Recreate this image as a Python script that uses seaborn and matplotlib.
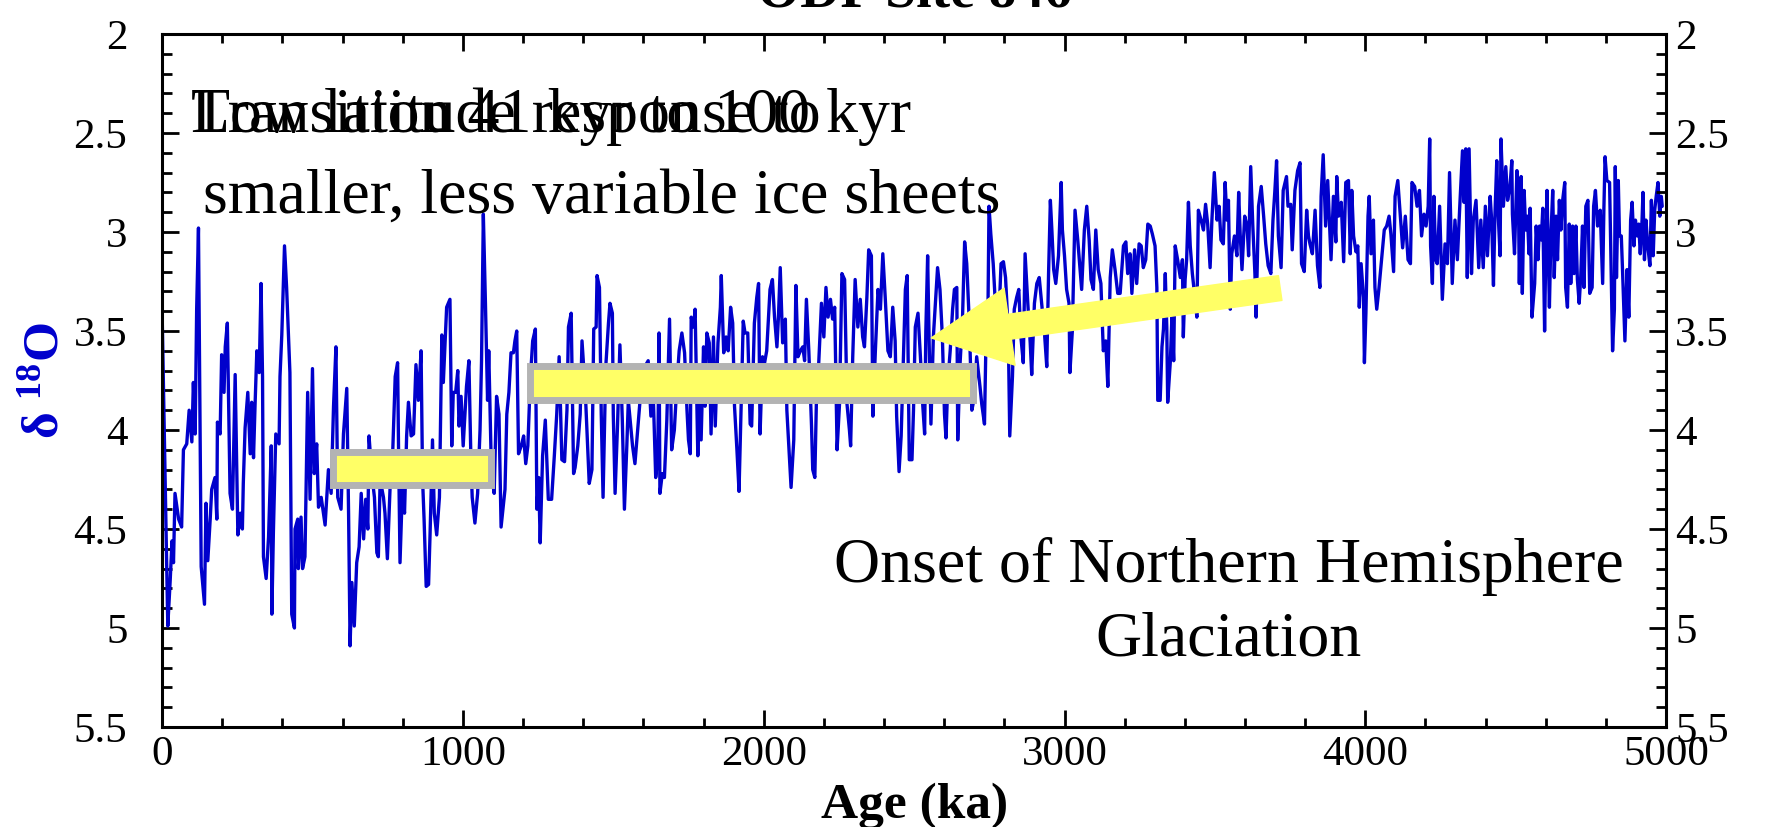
import matplotlib
matplotlib.use("Agg")
import matplotlib.pyplot as plt
import numpy as np
import pandas as pd
import seaborn as sns
from matplotlib.patches import Rectangle, FancyArrowPatch
from matplotlib.ticker import FixedLocator, FixedFormatter, MultipleLocator

sns.set_style("white")
plt.rcParams["font.family"] = ["Liberation Serif", "DejaVu Serif"]
plt.rcParams["mathtext.fontset"] = "custom"
plt.rcParams["mathtext.rm"] = "Liberation Serif"
plt.rcParams["mathtext.bf"] = "Liberation Serif:bold"
plt.rcParams["mathtext.it"] = "Liberation Serif:italic"
for k in ["axes.edgecolor", "text.color", "xtick.color", "ytick.color", "axes.labelcolor"]:
    plt.rcParams[k] = "black"

# ---------------- data ----------------
age_0 = [0, 19, 27, 33, 38, 43, 55, 65, 71, 82,
         90, 99, 104, 110, 115, 121, 130, 141, 146, 152,
         160, 165, 176, 182, 184, 193, 198, 206, 210, 217,
         226, 234, 243, 252, 260, 267, 270, 276, 285, 293,
         298, 304, 309, 315, 323, 329, 334, 337, 346, 354,
         363, 365, 370, 378, 389, 392, 398, 407, 414, 425,
         428, 431, 440, 442, 451, 453, 462, 467, 475, 484,
         492, 500, 506, 514, 520, 529, 542, 553, 562, 570,
         578, 584, 595, 603, 614, 620, 625, 631, 639, 647,
         655, 662, 670, 677, 684, 688, 697, 706, 714, 719,
         725, 736, 741, 749, 758, 767, 775, 783, 786, 791,
         799, 806, 813, 819, 828, 836, 844, 852, 861, 866,
         871, 878, 886, 891, 899, 905, 913, 922, 930, 935,
         946, 957, 963, 968, 976, 983, 987, 994]
d18o_0 = [3.39, 4.99, 4.76, 4.56, 4.67, 4.32, 4.45, 4.49, 4.10, 4.07,
          3.90, 4.06, 3.76, 4.02, 3.39, 2.98, 4.69, 4.88, 4.37, 4.66,
          4.45, 4.30, 4.24, 4.45, 3.96, 4.02, 3.62, 3.81, 3.58, 3.46,
          4.32, 4.40, 3.72, 4.53, 4.42, 4.50, 4.27, 3.99, 3.81, 4.12,
          3.86, 4.14, 3.88, 3.60, 3.71, 3.26, 3.73, 4.64, 4.75, 4.54,
          4.08, 4.93, 4.52, 4.02, 4.07, 3.73, 3.52, 3.07, 3.28, 3.71,
          4.34, 4.93, 5.00, 4.50, 4.45, 4.70, 4.44, 4.70, 4.64, 3.81,
          4.35, 3.69, 4.22, 4.07, 4.39, 4.34, 4.48, 4.20, 4.32, 3.88,
          3.58, 4.34, 4.40, 4.02, 3.79, 4.42, 5.09, 4.77, 4.99, 4.67,
          4.59, 4.32, 4.55, 4.35, 4.50, 4.03, 4.22, 4.34, 4.62, 4.64,
          4.25, 4.34, 4.42, 4.65, 4.29, 4.10, 3.73, 3.66, 4.08, 4.67,
          4.29, 4.42, 4.03, 3.86, 4.03, 4.02, 3.67, 3.85, 3.60, 4.25,
          4.45, 4.79, 4.78, 4.52, 4.05, 4.42, 4.53, 4.34, 3.52, 3.76,
          3.38, 3.34, 4.08, 3.81, 3.81, 3.70, 3.98, 3.83]

age_1 = [1001, 1012, 1020, 1027, 1031, 1040, 1049, 1057, 1062, 1068,
         1075, 1082, 1086, 1095, 1104, 1112, 1120, 1127, 1134, 1140,
         1146, 1153, 1160, 1168, 1173, 1179, 1185, 1194, 1202, 1209,
         1216, 1224, 1232, 1241, 1246, 1252, 1257, 1265, 1274, 1284,
         1295, 1304, 1312, 1320, 1329, 1338, 1346, 1351, 1360, 1368,
         1373, 1382, 1390, 1396, 1407, 1420, 1429, 1435, 1443, 1446,
         1454, 1460, 1466, 1475, 1484, 1489, 1497, 1500, 1506, 1514,
         1522, 1530, 1537, 1545, 1550, 1556, 1564, 1572, 1580, 1589,
         1597, 1605, 1616, 1625, 1633, 1641, 1648, 1652, 1655, 1663,
         1670, 1678, 1687, 1694, 1703, 1711, 1719, 1728, 1737, 1745,
         1750, 1756, 1759, 1767, 1772, 1781, 1786, 1792, 1800, 1805,
         1811, 1819, 1825, 1833, 1839, 1848, 1856, 1859, 1867, 1875,
         1882, 1890, 1897, 1903, 1911, 1918, 1925, 1932, 1938, 1947,
         1955, 1960, 1969, 1977, 1983, 1988, 1996]
d18o_1 = [4.08, 3.78, 3.65, 4.17, 4.34, 4.47, 4.32, 4.00, 3.65, 2.91,
          3.36, 3.85, 3.60, 4.22, 4.32, 3.83, 3.92, 4.49, 4.39, 4.30,
          3.92, 3.81, 3.61, 3.61, 3.55, 3.50, 4.12, 4.08, 4.03, 4.17,
          4.08, 3.75, 3.55, 3.49, 4.40, 4.24, 4.57, 4.13, 3.95, 4.35,
          4.35, 4.13, 3.92, 3.63, 4.15, 4.16, 3.90, 3.48, 3.41, 4.22,
          4.19, 4.08, 3.92, 3.55, 3.81, 4.27, 4.20, 3.49, 3.48, 3.22,
          3.28, 3.92, 4.34, 3.68, 3.46, 3.36, 3.41, 3.92, 4.32, 3.98,
          3.57, 3.95, 4.40, 4.08, 3.85, 3.95, 4.08, 4.17, 4.02, 3.85,
          3.80, 3.68, 3.65, 3.93, 3.83, 4.24, 4.13, 3.51, 4.32, 4.22,
          4.24, 3.95, 3.44, 4.10, 4.00, 3.78, 3.60, 3.51, 3.61, 3.90,
          4.05, 4.12, 3.43, 3.48, 3.39, 4.13, 3.75, 4.05, 3.58, 3.88,
          3.51, 3.56, 4.02, 3.53, 3.98, 3.56, 3.38, 3.22, 3.61, 3.53,
          3.60, 3.38, 3.46, 3.88, 4.10, 4.31, 3.87, 3.45, 3.51, 3.51,
          3.97, 3.98, 3.46, 3.33, 3.26, 4.02, 3.63]

age_2 = [2003, 2010, 2021, 2029, 2036, 2044, 2049, 2055, 2063, 2072,
         2077, 2083, 2091, 2100, 2107, 2114, 2122, 2130, 2136, 2142,
         2150, 2159, 2163, 2170, 2175, 2183, 2192, 2200, 2207, 2214,
         2222, 2229, 2236, 2244, 2252, 2260, 2269, 2277, 2285, 2289,
         2296, 2304, 2313, 2321, 2329, 2335, 2343, 2349, 2358, 2363,
         2371, 2380, 2388, 2396, 2404, 2413, 2421, 2429, 2437, 2442,
         2450, 2457, 2465, 2471, 2477, 2484, 2493, 2498, 2504, 2513,
         2521, 2529, 2535, 2539, 2545, 2550, 2556, 2564, 2572, 2578,
         2586, 2594, 2601, 2606, 2612, 2620, 2628, 2634, 2642, 2645,
         2653, 2661, 2668, 2675, 2683, 2692, 2701, 2708, 2719, 2725,
         2734, 2738, 2745, 2749, 2755, 2763, 2769, 2774, 2782, 2789,
         2797, 2804, 2813, 2818, 2827, 2833, 2841, 2848, 2855, 2863,
         2869, 2878, 2886, 2891, 2900, 2908, 2916, 2924, 2933, 2941,
         2947, 2953, 2958, 2964, 2971, 2980, 2989, 2993]
d18o_2 = [3.66, 3.60, 3.29, 3.24, 3.43, 3.58, 3.43, 3.18, 3.56, 3.44,
          3.90, 4.07, 4.29, 4.05, 3.27, 3.63, 3.60, 3.58, 3.65, 3.34,
          3.60, 3.98, 4.20, 4.24, 3.87, 3.66, 3.36, 3.53, 3.28, 3.43,
          3.34, 3.44, 3.38, 4.10, 3.87, 3.21, 3.24, 3.87, 4.00, 4.08,
          3.63, 3.24, 3.48, 3.34, 3.53, 3.58, 3.33, 3.09, 3.12, 3.93,
          3.61, 3.29, 3.39, 3.11, 3.33, 3.60, 3.63, 3.38, 3.55, 3.93,
          4.21, 4.03, 3.61, 3.29, 3.22, 4.15, 4.15, 3.90, 3.48, 3.41,
          3.63, 3.88, 4.02, 3.50, 3.12, 3.56, 3.97, 3.53, 3.33, 3.18,
          3.29, 3.53, 3.92, 4.04, 3.76, 3.60, 3.39, 3.29, 3.28, 4.05,
          3.66, 3.43, 3.05, 3.16, 3.44, 3.90, 3.83, 3.63, 3.78, 3.87,
          3.97, 3.63, 3.48, 2.87, 3.01, 3.16, 3.33, 3.53, 3.43, 3.16,
          3.15, 3.23, 3.50, 4.03, 3.73, 3.39, 3.33, 3.29, 3.53, 3.66,
          3.11, 3.36, 3.56, 3.72, 3.36, 3.26, 3.23, 3.36, 3.50, 3.68,
          3.21, 2.84, 2.99, 3.19, 3.26, 3.12, 2.75, 2.99]

age_3 = [3000, 3007, 3015, 3018, 3026, 3035, 3044, 3052, 3057, 3066,
         3074, 3082, 3088, 3096, 3104, 3112, 3121, 3129, 3137, 3144,
         3152, 3159, 3168, 3177, 3185, 3196, 3204, 3210, 3218, 3224,
         3233, 3240, 3248, 3255, 3262, 3270, 3277, 3285, 3292, 3301,
         3307, 3310, 3318, 3324, 3329, 3335, 3340, 3343, 3352, 3357,
         3363, 3368, 3376, 3385, 3392, 3395, 3401, 3406, 3412, 3418,
         3425, 3432, 3440, 3445, 3454, 3462, 3469, 3476, 3484, 3490,
         3498, 3507, 3514, 3520, 3528, 3534, 3540, 3545, 3551, 3556,
         3565, 3573, 3579, 3584, 3590, 3599, 3607, 3612, 3619, 3626,
         3633, 3637, 3645, 3654, 3662, 3669, 3677, 3686, 3693, 3699,
         3705, 3711, 3720, 3727, 3738, 3743, 3752, 3757, 3766, 3775,
         3783, 3788, 3797, 3805, 3811, 3816, 3824, 3833, 3841, 3849,
         3853, 3860, 3868, 3875, 3886, 3894, 3902, 3905, 3911, 3920,
         3928, 3935, 3944, 3950, 3955, 3961, 3969, 3975, 3980, 3986,
         3994, 3997]
d18o_3 = [3.12, 3.29, 3.36, 3.71, 3.50, 2.89, 3.04, 3.19, 3.29, 2.99,
          2.87, 3.04, 3.24, 3.29, 2.99, 3.19, 3.26, 3.60, 3.55, 3.78,
          3.23, 3.09, 3.19, 3.31, 3.31, 3.07, 3.05, 3.21, 3.11, 3.31,
          3.09, 3.26, 3.06, 3.07, 3.18, 3.14, 2.96, 2.97, 3.01, 3.07,
          3.28, 3.85, 3.85, 3.58, 3.49, 3.21, 3.48, 3.86, 3.65, 3.43,
          3.65, 3.07, 3.14, 3.23, 3.14, 3.53, 3.24, 3.14, 2.85, 3.07,
          3.21, 3.31, 3.43, 2.89, 2.94, 2.99, 2.86, 2.96, 3.18, 2.94,
          2.70, 2.94, 2.87, 3.04, 3.06, 2.75, 2.94, 2.84, 3.39, 3.11,
          3.02, 3.12, 2.80, 3.01, 3.19, 2.92, 2.97, 3.12, 2.67, 2.97,
          3.21, 3.43, 2.87, 2.77, 2.92, 3.06, 3.17, 3.21, 2.94, 2.80,
          2.64, 3.02, 3.18, 2.79, 2.72, 2.87, 2.86, 3.09, 2.79, 2.69,
          2.65, 3.16, 3.20, 2.89, 3.02, 3.06, 3.11, 2.89, 3.17, 3.28,
          2.82, 2.61, 2.97, 2.74, 3.14, 2.82, 3.05, 2.72, 2.92, 2.85,
          3.15, 2.75, 2.74, 3.11, 2.79, 3.02, 3.10, 3.07, 3.38, 3.16,
          3.33, 3.66]

age_4 = [4002, 4009, 4013, 4019, 4027, 4032, 4038, 4045, 4054, 4063,
         4071, 4079, 4085, 4094, 4099, 4108, 4116, 4124, 4133, 4142,
         4150, 4155, 4164, 4172, 4180, 4187, 4195, 4202, 4209, 4214,
         4217, 4223, 4228, 4234, 4239, 4247, 4256, 4265, 4273, 4280,
         4289, 4298, 4306, 4314, 4323, 4328, 4334, 4339, 4345, 4353,
         4359, 4368, 4377, 4384, 4392, 4399, 4406, 4415, 4420, 4426,
         4431, 4437, 4442, 4448, 4451, 4459, 4467, 4473, 4481, 4487,
         4489, 4496, 4504, 4509, 4512, 4518, 4522, 4528, 4533, 4539,
         4544, 4548, 4554, 4563, 4568, 4574, 4579, 4585, 4590, 4596,
         4601, 4604, 4612, 4617, 4623, 4628, 4634, 4639, 4645, 4650,
         4656, 4663, 4666, 4672, 4678, 4683, 4689, 4694, 4700, 4705,
         4711, 4716, 4722, 4727, 4733, 4740, 4746, 4754, 4759, 4765,
         4772, 4781, 4789, 4793, 4797, 4803, 4812, 4817, 4822, 4828,
         4831, 4835, 4841, 4845, 4851, 4855, 4863, 4870, 4876, 4882,
         4887, 4893, 4898, 4904, 4909, 4914, 4920, 4923, 4928, 4933,
         4939, 4946, 4951, 4957, 4962, 4967, 4973, 4979, 4984, 4987]
d18o_4 = [3.41, 2.92, 2.82, 3.11, 2.94, 3.28, 3.39, 3.29, 3.14, 2.99,
          2.97, 2.92, 3.01, 3.20, 2.82, 2.74, 2.91, 3.08, 2.92, 3.14,
          3.16, 2.75, 2.77, 2.87, 2.79, 3.02, 2.91, 2.97, 2.87, 2.53,
          3.07, 3.26, 2.82, 3.14, 3.16, 2.87, 3.34, 3.06, 3.16, 2.70,
          3.26, 2.94, 3.14, 2.87, 2.59, 2.85, 2.58, 3.23, 2.58, 3.21,
          2.94, 2.84, 3.18, 2.94, 3.18, 2.87, 3.12, 2.82, 2.94, 3.27,
          2.91, 2.64, 2.92, 3.12, 2.53, 2.87, 2.67, 2.84, 2.77, 2.64,
          2.91, 3.11, 2.69, 2.82, 3.26, 2.72, 3.31, 2.79, 2.99, 2.92,
          3.11, 2.88, 3.43, 3.26, 2.97, 3.14, 2.97, 3.04, 2.88, 3.50,
          2.99, 2.79, 3.38, 3.02, 2.79, 3.23, 2.92, 3.14, 2.84, 2.99,
          2.84, 2.75, 3.28, 3.38, 2.96, 3.26, 2.97, 3.21, 2.97, 3.24,
          3.36, 3.23, 2.97, 3.28, 2.87, 2.84, 3.31, 3.28, 2.87, 2.79,
          2.97, 2.89, 3.26, 2.89, 2.62, 2.74, 2.75, 3.16, 3.60, 3.39,
          2.67, 3.23, 2.74, 3.02, 3.02, 3.19, 3.55, 3.19, 3.43, 2.94,
          2.85, 3.07, 2.94, 3.02, 2.96, 3.11, 2.94, 2.80, 3.14, 2.94,
          3.07, 3.17, 2.84, 3.12, 2.89, 2.82, 2.75, 2.92, 2.82, 2.87]

x_ticks = [0, 1000, 2000, 3000, 4000, 5000]
x_tick_labels = ["0", "1000", "2000", "3000", "4000", "5000"]
y_ticks = [2, 2.5, 3, 3.5, 4, 4.5, 5, 5.5]
y_tick_labels = ["2", "2.5", "3", "3.5", "4", "4.5", "5", "5.5"]

# highlighted intervals: (start ka, end ka, top, bottom)
box_short = (567, 1094, 4.112, 4.277)
box_long = (1224, 2696, 3.676, 3.847)
arrow_tail = (3717, 3.283)
arrow_tip = (2557, 3.535)

age = age_0 + age_1 + age_2 + age_3 + age_4
d18o = d18o_0 + d18o_1 + d18o_2 + d18o_3 + d18o_4
df = pd.DataFrame({"age": age, "d18o": d18o})

BLUE = "#0000CC"
YELLOW = "#FFFF66"
GREY = "#B3B3B3"

fig = plt.figure(figsize=(17.81, 8.27), dpi=100)
ax = fig.add_axes([0.0910, 0.1209, 0.8445, 0.8380])

sns.lineplot(data=df, x="age", y="d18o", ax=ax, color=BLUE, lw=2.4,
             estimator=None, sort=False, zorder=2)

ax.set_xlim(0, 5000)
ax.set_ylim(5.5, 2)

ax.xaxis.set_major_locator(FixedLocator(x_ticks))
ax.xaxis.set_major_formatter(FixedFormatter(x_tick_labels))
ax.xaxis.set_minor_locator(MultipleLocator(200))
ax.yaxis.set_major_locator(FixedLocator(y_ticks))
ax.yaxis.set_major_formatter(FixedFormatter(y_tick_labels))
ax.yaxis.set_minor_locator(MultipleLocator(0.1))

ax.tick_params(axis="both", which="both", direction="in", top=True, bottom=True,
               left=True, right=False, labelsize=31, width=2)
ax.tick_params(axis="x", which="major", length=12, pad=6)
ax.tick_params(axis="x", which="minor", length=6.5)
ax.tick_params(axis="y", which="major", length=12, pad=25)
ax.tick_params(axis="y", which="minor", length=7)
for s in ax.spines.values():
    s.set_linewidth(2.2)
    s.set_color("black")

ax2 = ax.twinx()
ax2.set_ylim(5.5, 2)
ax2.yaxis.set_major_locator(FixedLocator(y_ticks))
ax2.yaxis.set_major_formatter(FixedFormatter(y_tick_labels))
ax2.yaxis.set_minor_locator(MultipleLocator(0.1))
ax2.tick_params(axis="y", which="both", direction="in", right=True, labelsize=31, width=2)
ax2.tick_params(axis="y", which="major", length=12, pad=6.5)
ax2.tick_params(axis="y", which="minor", length=7)
for s in ax2.spines.values():
    s.set_visible(False)

ax.set_xlabel("Age (ka)", fontsize=37, fontweight="bold")
ax.xaxis.set_label_coords(0.5, -0.080)
ax.set_ylabel(r"δ $^{\mathbf{18}}$O", fontsize=37, fontweight="bold", color=BLUE)
ax.yaxis.set_label_coords(-0.062, 0.5)
ax.set_title("ODP Site 846", fontsize=40, fontweight="bold", pad=19.5)

# yellow bars
for (x0, x1, y0, y1) in (box_short, box_long):
    ax.add_patch(Rectangle((x0, y0), x1 - x0, y1 - y0, facecolor=YELLOW,
                           edgecolor=GREY, linewidth=5, zorder=3))

arrow = FancyArrowPatch(posA=arrow_tail, posB=arrow_tip,
                        arrowstyle="simple,head_length=57,head_width=56,tail_width=18",
                        mutation_scale=1, color=YELLOW, shrinkA=0, shrinkB=0, zorder=4)
ax.add_patch(arrow)

ax.text(96, 2.495, "Transition 41 kyr to 100 kyr", fontsize=46, ha="left", va="baseline", zorder=5)
ax.text(96, 2.495, "Low latitude response to", fontsize=46, ha="left", va="baseline", zorder=5)
ax.text(135, 2.90, "smaller, less variable ice sheets", fontsize=46, ha="left", va="baseline", zorder=5)
ax.text(3546, 4.768, "Onset of Northern Hemisphere", fontsize=46, ha="center", va="baseline", zorder=5)
ax.text(3546, 5.137, "Glaciation", fontsize=46, ha="center", va="baseline", zorder=5)

fig.savefig("out.png", dpi=100)
